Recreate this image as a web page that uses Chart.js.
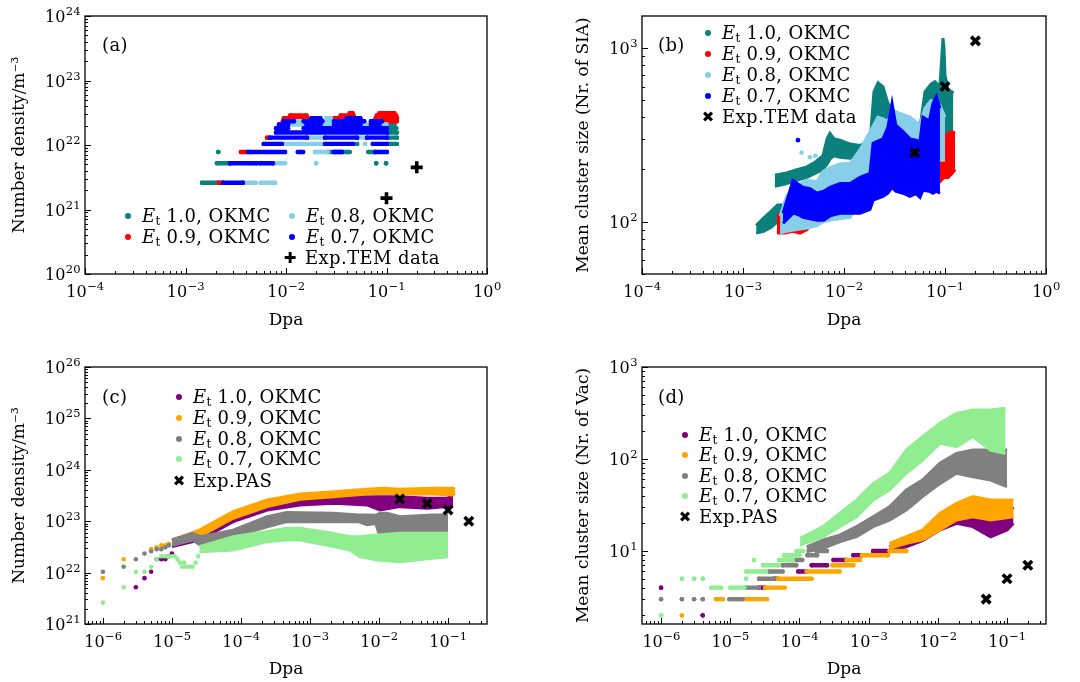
<!DOCTYPE html>
<html>
<head>
<meta charset="utf-8">
<script src="https://cdn.jsdelivr.net/npm/chart.js@4.4.1/dist/chart.umd.min.js"></script>
<style>
  body { margin: 0; background: #fff; width: 1080px; height: 682px; overflow: hidden; position: relative; font-family: "DejaVu Serif", serif; }
  canvas { position: absolute; }
  .txt { position: absolute; font-size: 18px; letter-spacing: 0.4px; line-height: 22px; white-space: nowrap; color: #000; }
  .txt sub { font-size: 12px; vertical-align: -3px; line-height: 0; letter-spacing: 0; }
  .dot { position: absolute; width: 6px; height: 6px; border-radius: 50%; }
  .sym { position: absolute; font-family: "DejaVu Sans", sans-serif; font-size: 15px; line-height: 16px; width: 16px; text-align: center; }
</style>
</head>
<body>
<canvas id="ca" width="540" height="340" style="left:0;top:0"></canvas>
<canvas id="cb" width="540" height="340" style="left:540px;top:0"></canvas>
<canvas id="cc" width="540" height="342" style="left:0;top:340px"></canvas>
<canvas id="cd" width="540" height="342" style="left:540px;top:340px"></canvas>
<script>
// ---- data (dpa, value) ----
// panel (a): runs of points at one density level [dpa start, dpa end, density]
const aTealRuns = [
  [1.46e-3, 2.10e-3, 2.6e21], [2.05e-3, 2.77e-3, 5.2e21], [2.12e-3, 2.12e-3, 7.8e21],
  [0.079, 0.079, 5.2e21], [0.099, 0.099, 5.2e21],
  [0.026, 0.043, 7.8e21], [0.066, 0.077, 7.8e21],
  [0.051, 0.051, 1.04e22], [0.104, 0.127, 1.04e22], [0.104, 0.127, 1.3e22],
  [0.104, 0.127, 1.56e22], [0.104, 0.125, 1.82e22], [0.104, 0.12, 2.08e22]
];
const aRedRuns = [
  [2.15e-3, 2.36e-3, 2.6e21], [3.56e-3, 4.19e-3, 7.8e21], [6.47e-3, 6.93e-3, 1.3e22],
  [0.0093, 0.017, 2.34e22], [0.0095, 0.0165, 2.6e22], [0.011, 0.016, 2.86e22],
  [0.030, 0.048, 2.6e22], [0.035, 0.047, 2.86e22], [0.043, 0.046, 3.12e22],
  [0.075, 0.127, 2.34e22], [0.078, 0.127, 2.6e22], [0.080, 0.125, 2.86e22], [0.085, 0.120, 3.12e22]
];
const aSkyRuns = [
  [3.73e-3, 5.0e-3, 2.6e21], [5.6e-3, 7.8e-3, 2.6e21],
  [7.4e-3, 9.8e-3, 5.2e21], [0.020, 0.020, 5.2e21],
  [0.0194, 0.026, 7.8e21],
  [9.1e-3, 0.0244, 1.04e22], [0.061, 0.061, 1.04e22],
  [0.0162, 0.0244, 1.3e22], [0.051, 0.064, 1.3e22],
  [0.0105, 0.015, 2.08e22], [0.022, 0.030, 2.08e22], [0.055, 0.070, 2.08e22], [0.085, 0.100, 2.08e22],
  [0.012, 0.015, 2.34e22], [0.023, 0.030, 2.34e22], [0.025, 0.028, 2.6e22]
];
const aBlueRuns = [
  [2.36e-3, 3.73e-3, 2.6e21],
  [2.77e-3, 5.1e-3, 5.2e21], [5.5e-3, 7.4e-3, 5.2e21],
  [4.19e-3, 9.8e-3, 7.8e21], [0.0131, 0.0148, 7.8e21], [0.030, 0.036, 7.8e21], [0.077, 0.101, 7.8e21],
  [6.0e-3, 9.1e-3, 1.04e22], [0.0244, 0.0465, 1.04e22], [0.073, 0.101, 1.04e22],
  [6.9e-3, 0.0162, 1.3e22], [0.0244, 0.051, 1.3e22], [0.064, 0.101, 1.3e22],
  [7.95e-3, 0.101, 1.56e22],
  [7.95e-3, 0.0105, 1.82e22], [0.015, 0.101, 1.82e22],
  [8.5e-3, 0.0105, 2.08e22], [0.016, 0.022, 2.08e22], [0.030, 0.055, 2.08e22], [0.070, 0.085, 2.08e22],
  [9.5e-3, 0.012, 2.34e22], [0.015, 0.023, 2.34e22], [0.030, 0.060, 2.34e22], [0.070, 0.090, 2.34e22],
  [0.018, 0.022, 2.6e22], [0.040, 0.055, 2.6e22]
];
const aExpDpa = [0.1, 0.2];
const aExpDensity = [1.5e21, 4.5e21];

// panel (b): band envelopes (dpa, lower, upper)
const bTealLowDpa = [1.35e-3, 1.6e-3, 1.9e-3, 2.2e-3, 2.6e-3];
const bTealLowLow = [86, 88, 93, 100, 108];
const bTealLowHigh = [95, 105, 115, 125, 125];
const bTealDpa = [2.07e-3, 2.61e-3, 3.28e-3, 4.3e-3, 5.16e-3, 6.2e-3, 6.8e-3, 7.26e-3, 7.97e-3, 9.12e-3, 0.0115, 0.0144, 0.0181, 0.0198, 0.0217, 0.0243, 0.0272, 0.0299, 0.0358, 0.045, 0.0516, 0.0578, 0.0633, 0.0727, 0.0795, 0.0891, 0.0955, 0.0977, 0.1, 0.1073, 0.1175, 0.121];
const bTealLow = [160, 165, 172, 180, 190, 200, 215, 230, 240, 235, 232, 235, 240, 300, 350, 420, 380, 320, 295, 290, 270, 300, 420, 440, 450, 400, 258, 258, 300, 190, 190, 200];
const bTealHigh = [185, 190, 198, 207, 220, 240, 300, 323, 300, 295, 280, 275, 290, 560, 630, 600, 480, 440, 380, 350, 340, 380, 560, 620, 640, 600, 1140, 1000, 700, 570, 560, 550];
const bRedDpa = [2.17e-3, 2.6e-3, 3.13e-3, 3.66e-3, 4.3e-3, 5.41e-3, 7.26e-3, 9.12e-3, 0.0144, 0.0181, 0.0243, 0.0358, 0.042, 0.0516, 0.0605, 0.0727, 0.0891, 0.0977, 0.1073, 0.1175, 0.126];
const bRedLow = [86, 86, 88, 86, 90, 110, 121, 121, 130, 150, 150, 160, 173, 173, 173, 173, 170, 180, 180, 190, 200];
const bRedHigh = [108, 112, 110, 106, 112, 140, 160, 170, 200, 250, 250, 220, 235, 235, 300, 370, 320, 300, 323, 330, 323];
const bSkyDpa = [2.33e-3, 2.7e-3, 3.3e-3, 4.3e-3, 5.41e-3, 6.2e-3, 7.26e-3, 9.12e-3, 0.0115, 0.0144, 0.0181, 0.0217, 0.0272, 0.0305, 0.0358, 0.045, 0.0565, 0.0633, 0.0727, 0.0891, 0.1];
const bSkyLow = [86, 88, 90, 92, 95, 100, 102, 104, 106, 140, 190, 206, 200, 180, 170, 165, 158, 200, 226, 226, 226];
const bSkyHigh = [108, 140, 160, 173, 170, 195, 205, 215, 217, 260, 330, 400, 380, 440, 420, 400, 360, 450, 500, 470, 400];
const bBlueDpa = [2.49e-3, 3.13e-3, 3.5e-3, 3.93e-3, 4.6e-3, 5.41e-3, 6.3e-3, 7.26e-3, 9.12e-3, 0.0115, 0.0144, 0.0181, 0.0194, 0.0243, 0.0272, 0.0299, 0.0325, 0.0384, 0.045, 0.0516, 0.0565, 0.0605, 0.07, 0.076, 0.082, 0.0891];
const bBlueLow = [98, 112, 110, 106, 104, 102, 102, 108, 112, 112, 112, 118, 133, 140, 146, 158, 150, 146, 140, 145, 138, 152, 150, 146, 150, 146];
const bBlueHigh = [112, 173, 165, 158, 155, 146, 150, 158, 166, 166, 180, 190, 283, 300, 350, 480, 360, 330, 300, 295, 290, 400, 380, 480, 525, 450];
const bSkyDotDpa = [3.8e-3, 4.6e-3, 5.2e-3];
const bSkyDotSize = [250, 235, 240];
const bBlueDotDpa = [3.5e-3];
const bBlueDotSize = [295];
const bExpDpa = [0.05, 0.1, 0.2];
const bExpSize = [250, 600, 1100];

// panel (c)
const cPurpleDotDpa = [3e-6, 4e-6, 5e-6, 6e-6, 7e-6, 8e-6, 9e-6, 1e-5];
const cPurpleDotDensity = [5.2e21, 7.8e21, 1.04e22, 1.82e22, 1.82e22, 1.82e22, 2.08e22, 2.34e22];
const cOrangeDotDpa = [1e-6, 2e-6, 5e-6, 6e-6, 7e-6, 8e-6, 9e-6];
const cOrangeDotDensity = [7.8e21, 1.82e22, 2.86e22, 3.12e22, 3.38e22, 3.38e22, 3.64e22];
const cGrayDotDpa = [1e-6, 2e-6, 3e-6, 4e-6, 5e-6, 6e-6, 7e-6, 8e-6, 9e-6];
const cGrayDotDensity = [1.04e22, 1.3e22, 1.82e22, 2.34e22, 2.6e22, 2.86e22, 2.86e22, 3.12e22, 3.38e22];
const cGreenDotDpa = [1e-6, 2e-6, 3e-6, 4e-6, 5e-6, 6e-6, 7e-6, 8e-6, 9e-6, 1e-5, 1.1e-5, 1.2e-5, 1.3e-5, 1.4e-5, 1.5e-5, 1.6e-5, 1.8e-5, 2.0e-5, 2.2e-5, 2.4e-5];
const cGreenDotDensity = [2.6e21, 5.2e21, 1.04e22, 1.04e22, 1.3e22, 1.82e22, 2.08e22, 2.08e22, 2.08e22, 2.08e22, 2.08e22, 1.82e22, 1.56e22, 1.3e22, 1.56e22, 1.3e22, 1.3e22, 1.3e22, 1.56e22, 2.08e22];
const cPurpleDpa = [1.0e-5, 2.5e-5, 7.7e-5, 2.4e-4, 7.2e-4, 2.2e-3, 6.7e-3, 0.0103, 0.013, 0.02, 0.05, 0.097, 0.118];
const cPurpleLow = [3.2e22, 4.3e22, 9.8e22, 1.65e23, 2.07e23, 2.23e23, 2.07e23, 1.65e23, 1.75e23, 1.92e23, 1.78e23, 1.92e23, 2.07e23];
const cPurpleHigh = [4.3e22, 6.3e22, 1.42e23, 2.23e23, 2.79e23, 3.0e23, 3.0e23, 3.0e23, 3.0e23, 3.0e23, 2.79e23, 2.79e23, 3.24e23];
const cOrangeDpa = [1.0e-5, 2.5e-5, 7.7e-5, 2.4e-4, 7.2e-4, 2.2e-3, 6.7e-3, 0.0114, 0.02, 0.06, 0.118, 0.126];
const cOrangeLow = [3.7e22, 5.0e22, 1.14e23, 1.92e23, 2.66e23, 3.0e23, 3.38e23, 3.49e23, 3.38e23, 3.38e23, 3.24e23, 3.49e23];
const cOrangeHigh = [4.3e22, 6.7e22, 1.53e23, 2.58e23, 3.38e23, 3.76e23, 4.17e23, 4.36e23, 4.17e23, 4.36e23, 4.36e23, 4.17e23];
const cGrayDpa = [1.0e-5, 2.0e-5, 2.6e-5, 7.7e-5, 2.4e-4, 4.6e-4, 2.2e-3, 5.0e-3, 6.7e-3, 9.0e-3, 0.0103, 0.0131, 0.02, 0.06, 0.1];
const cGrayLow = [3.4e22, 4.3e22, 3.4e22, 5.0e22, 7.8e22, 9.8e22, 9.8e22, 9.8e22, 8.5e22, 9.0e22, 5.0e22, 5.0e22, 5.8e22, 5.8e22, 5.4e22];
const cGrayHigh = [4.3e22, 5.8e22, 5.0e22, 6.7e22, 1.22e23, 1.47e23, 1.42e23, 1.32e23, 1.32e23, 1.3e23, 1.42e23, 1.42e23, 1.22e23, 1.32e23, 1.32e23];
const cGreenDpa = [2.5e-5, 7.7e-5, 2.4e-4, 4.6e-4, 7.2e-4, 2.2e-3, 3.8e-3, 5.3e-3, 9.4e-3, 0.02, 0.06, 0.1];
const cGreenLow = [2.55e22, 2.75e22, 4.0e22, 4.3e22, 4.3e22, 3.2e22, 2.75e22, 2.04e22, 1.76e22, 1.63e22, 1.9e22, 2.04e22];
const cGreenHigh = [3.2e22, 5.0e22, 6.3e22, 7.3e22, 7.3e22, 5.8e22, 5.0e22, 5.0e22, 5.4e22, 5.8e22, 5.8e22, 5.8e22];
const cExpDpa = [0.02, 0.05, 0.1, 0.2];
const cExpDensity = [2.7e23, 2.2e23, 1.65e23, 1.0e23];

// panel (d): runs [dpa start, dpa end, size] and band envelopes
const dPurpleRuns = [[1e-6, 1e-6, 4], [4e-6, 4e-6, 2], [2.6e-5, 3.1e-5, 4], [4.3e-5, 4.8e-5, 5], [9.6e-5, 1.27e-4, 6], [1.5e-4, 2.5e-4, 7], [3.1e-4, 4.8e-4, 8], [6e-4, 8e-4, 9], [1.16e-3, 2.0e-3, 10]];
const dOrangeRuns = [[2e-6, 2e-6, 2], [6.2e-6, 7.8e-6, 3], [1.0e-5, 3.4e-5, 3], [3.2e-5, 6.1e-5, 4], [4.8e-5, 1.5e-4, 5], [1.27e-4, 3.8e-4, 6], [3e-4, 6e-4, 7], [4.8e-4, 7.5e-4, 8], [8e-4, 1.9e-3, 9], [2.0e-3, 3.5e-3, 10]];
const dGrayRuns = [[1e-6, 1e-6, 3], [2e-6, 2e-6, 3], [3e-6, 3e-6, 3], [4e-6, 4e-6, 3], [9.7e-6, 1.5e-5, 3], [1.7e-5, 2.6e-5, 4], [2.6e-5, 4.3e-5, 5], [3.6e-5, 5.7e-5, 6], [5.7e-5, 9e-5, 7], [6.5e-5, 1.1e-4, 8], [1.3e-4, 1.8e-4, 9], [1.77e-4, 2.5e-4, 10]];
const dGreenRuns = [[1e-6, 1e-6, 2], [2e-6, 2e-6, 5], [3e-6, 3e-6, 5], [4e-6, 4e-6, 5], [5.3e-6, 7.4e-6, 4], [1.0e-5, 1.6e-5, 4], [1.7e-5, 1.7e-5, 5], [1.7e-5, 3.3e-5, 6], [2.2e-5, 2.2e-5, 8], [3.0e-5, 5.0e-5, 7], [5.1e-5, 8.0e-5, 8], [6.0e-5, 1.0e-4, 9], [9.1e-5, 1.13e-4, 10]];
const dPurpleDpa = [2.0e-3, 3.5e-3, 6.0e-3, 0.0107, 0.0186, 0.032, 0.058, 0.1, 0.124];
const dPurpleLow = [9.8, 11.1, 13, 16.9, 20, 18.4, 14.3, 16.9, 20];
const dPurpleHigh = [11.1, 13.2, 16, 23.6, 30.3, 30.3, 25.6, 25.6, 30];
const dOrangeDpa = [2.0e-3, 3.5e-3, 6.0e-3, 0.0107, 0.0186, 0.032, 0.058, 0.124];
const dOrangeLow = [10.7, 12.1, 13.2, 16.9, 21.7, 23.6, 21.7, 23.6];
const dOrangeHigh = [12.1, 14.3, 16.9, 25.6, 33, 39, 35.8, 35.8];
const dGrayDpa = [1.27e-4, 2.2e-4, 3.8e-4, 6.7e-4, 1.16e-3, 2.0e-3, 3.5e-3, 6.0e-3, 0.0107, 0.0186, 0.032, 0.058, 0.1];
const dGrayLow = [9.8, 10.7, 12.6, 14.3, 18.4, 21.7, 27.9, 39, 54, 70, 64, 59, 50];
const dGrayHigh = [11.1, 13.2, 14.9, 18.4, 23.6, 30.3, 46, 59, 90, 115, 125, 125, 125];
const dGreenDpa = [1.02e-4, 2.2e-4, 3.8e-4, 6.7e-4, 1.16e-3, 2.0e-3, 3.5e-3, 6.0e-3, 0.0107, 0.0186, 0.032, 0.058, 0.095];
const dGreenLow = [11.6, 14.3, 18.4, 23.6, 35.8, 46, 70, 97.5, 148, 136, 175, 125, 115];
const dGreenHigh = [13.7, 18.4, 25.6, 35.8, 54, 70, 125, 175, 244, 313, 341, 341, 356];
const dExpDpa = [0.05, 0.1, 0.2];
const dExpSize = [3, 5, 7];

const etValues = ['1.0', '0.9', '0.8', '0.7'];
const colorsTop = ['#0b807c', '#ff0000', '#87ceeb', '#0000ff'];
const colorsBottom = ['#800080', '#ffa500', '#808080', '#90ee90'];

// ---- helpers ----
function logTicks(scale) {
  const t = [];
  const e0 = Math.floor(Math.log10(scale.min)), e1 = Math.ceil(Math.log10(scale.max));
  for (let e = e0; e <= e1; e++) {
    for (let k = 1; k <= 9; k++) {
      const v = k * Math.pow(10, e);
      if (v >= scale.min * 0.999 && v <= scale.max * 1.001) t.push({value: v, major: k === 1});
    }
  }
  scale.ticks = t;
}

function runSet(runs, color, order) {
  const pts = [];
  runs.forEach(r => { pts.push({x: r[0], y: r[2]}, {x: r[1], y: r[2]}, {x: r[1], y: null}); });
  return {data: pts, borderColor: color, backgroundColor: color, borderWidth: 4.4, borderCapStyle: 'round',
    pointRadius: 2.2, pointBorderWidth: 0, pointBackgroundColor: color, showLine: true, spanGaps: false, fill: false, order};
}
function bandSets(xs, lo, hi, color, order) {
  return [
    {data: xs.map((x, i) => ({x, y: lo[i]})), borderColor: color, borderWidth: 3, pointRadius: 0, fill: false, order},
    {data: xs.map((x, i) => ({x, y: hi[i]})), borderColor: color, borderWidth: 3, pointRadius: 0, fill: '-1', backgroundColor: color, order}
  ];
}
function dotSet(xs, ys, color, order) {
  return {data: xs.map((x, i) => ({x, y: ys[i]})), showLine: false, pointRadius: 2.3, pointBorderWidth: 0,
    pointBackgroundColor: color, borderColor: color, order};
}
function expSet(xs, ys, style) {
  return {data: xs.map((x, i) => ({x, y: ys[i]})), showLine: false, pointStyle: style, pointRadius: 6,
    pointBorderWidth: 3.6, pointBorderColor: '#000', borderColor: '#000', order: 0};
}

// "10" with a raised exponent, placed at the scale's own tick pixels
function powText(ctx, x, y, exp, align) {
  const e = String(exp).replace('-', '\u2212');
  ctx.font = '16px "DejaVu Serif"';
  const w1 = ctx.measureText('10').width;
  ctx.font = '11.5px "DejaVu Serif"';
  const w2 = ctx.measureText(e).width;
  const x0 = align === 'right' ? x - w1 - w2 : x - (w1 + w2) / 2;
  ctx.font = '16px "DejaVu Serif"';
  ctx.fillText('10', x0, y);
  ctx.font = '11.5px "DejaVu Serif"';
  ctx.fillText(e, x0 + w1 + 0.5, y - 7);
}

const frameTicks = {
  id: 'frameTicks',
  afterDraw(chart) {
    const ctx = chart.ctx, a = chart.chartArea;
    const sx = chart.scales.x, sy = chart.scales.y;
    ctx.save();
    ctx.strokeStyle = '#000';
    ctx.fillStyle = '#000';
    ctx.lineWidth = 1;
    ctx.beginPath();
    sx.ticks.forEach(t => {
      const p = Math.round(sx.getPixelForValue(t.value)) + 0.5;
      ctx.moveTo(p, a.bottom); ctx.lineTo(p, a.bottom - (t.major ? 6 : 3));
    });
    sy.ticks.forEach(t => {
      const p = Math.round(sy.getPixelForValue(t.value)) + 0.5;
      ctx.moveTo(a.left, p); ctx.lineTo(a.left + (t.major ? 6 : 3), p);
    });
    ctx.stroke();
    ctx.lineWidth = 1.3;
    ctx.strokeRect(a.left, a.top, a.right - a.left, a.bottom - a.top);
    ctx.textBaseline = 'alphabetic';
    ctx.textAlign = 'left';
    sx.ticks.filter(t => t.major).forEach(t => {
      powText(ctx, sx.getPixelForValue(t.value), a.bottom + 23, Math.round(Math.log10(t.value)), 'center');
    });
    sy.ticks.filter(t => t.major).forEach(t => {
      powText(ctx, a.left - 5, sy.getPixelForValue(t.value) + 6, Math.round(Math.log10(t.value)), 'right');
    });
    ctx.restore();
  }
};

const titleFont = {family: 'DejaVu Serif', size: 17};

function makeChart(id, p, datasets) {
  return new Chart(document.getElementById(id), {
    type: 'line',
    data: {datasets},
    plugins: [frameTicks],
    options: {
      responsive: false, animation: false, devicePixelRatio: 1,
      layout: {padding: {left: 0, right: p.padR, top: p.padT, bottom: 0}},
      plugins: {legend: {display: false}, tooltip: {enabled: false}},
      elements: {line: {tension: 0}},
      scales: {
        x: {
          type: 'logarithmic', min: p.xMin, max: p.xMax,
          afterBuildTicks: logTicks,
          afterFit: s => { s.height = p.xH; s.paddingLeft = 0; s.paddingRight = 0; },
          grid: {display: false}, border: {display: false},
          ticks: {display: false},
          title: {display: true, text: 'Dpa', color: '#000', font: titleFont, padding: {top: 0, bottom: p.xTitlePad}}
        },
        y: {
          type: 'logarithmic', min: p.yMin, max: p.yMax,
          afterBuildTicks: logTicks,
          afterFit: s => { s.width = p.yW; s.paddingTop = 0; s.paddingBottom = 0; },
          grid: {display: false}, border: {display: false},
          ticks: {display: false},
          title: {display: true, text: p.yTitle, color: '#000', font: titleFont, padding: {top: p.yTitlePad, bottom: 0}}
        }
      }
    }
  });
}

// ---- charts ----
makeChart('ca', {padR: 53, padT: 16, xH: 66, yW: 85, xMin: 1e-4, xMax: 1, yMin: 1e20, yMax: 1e24,
  xTitlePad: 9, yTitlePad: 9, yTitle: 'Number density/m⁻³'}, [
  runSet(aTealRuns, colorsTop[0], 40),
  runSet(aRedRuns, colorsTop[1], 30),
  runSet(aSkyRuns, colorsTop[2], 20),
  runSet(aBlueRuns, colorsTop[3], 10),
  expSet(aExpDpa, aExpDensity, 'cross')
]);

makeChart('cb', {padR: 34, padT: 16, xH: 66, yW: 102, xMin: 1e-4, xMax: 1, yMin: 50, yMax: 1530,
  xTitlePad: 9, yTitlePad: 33, yTitle: 'Mean cluster size (Nr. of SIA)'}, [
  ...bandSets(bTealLowDpa, bTealLowLow, bTealLowHigh, colorsTop[0], 40),
  ...bandSets(bTealDpa, bTealLow, bTealHigh, colorsTop[0], 40),
  ...bandSets(bRedDpa, bRedLow, bRedHigh, colorsTop[1], 30),
  ...bandSets(bSkyDpa, bSkyLow, bSkyHigh, colorsTop[2], 20),
  dotSet(bSkyDotDpa, bSkyDotSize, colorsTop[2], 20),
  ...bandSets(bBlueDpa, bBlueLow, bBlueHigh, colorsTop[3], 10),
  dotSet(bBlueDotDpa, bBlueDotSize, colorsTop[3], 10),
  expSet(bExpDpa, bExpSize, 'crossRot')
]);

makeChart('cc', {padR: 53, padT: 27, xH: 58, yW: 85, xMin: 5.5e-7, xMax: 0.367, yMin: 1e21, yMax: 1e26,
  xTitlePad: 2, yTitlePad: 9, yTitle: 'Number density/m⁻³'}, [
  dotSet(cPurpleDotDpa, cPurpleDotDensity, colorsBottom[0], 40),
  ...bandSets(cPurpleDpa, cPurpleLow, cPurpleHigh, colorsBottom[0], 40),
  dotSet(cOrangeDotDpa, cOrangeDotDensity, colorsBottom[1], 30),
  ...bandSets(cOrangeDpa, cOrangeLow, cOrangeHigh, colorsBottom[1], 30),
  dotSet(cGrayDotDpa, cGrayDotDensity, colorsBottom[2], 20),
  ...bandSets(cGrayDpa, cGrayLow, cGrayHigh, colorsBottom[2], 20),
  dotSet(cGreenDotDpa, cGreenDotDensity, colorsBottom[3], 10),
  ...bandSets(cGreenDpa, cGreenLow, cGreenHigh, colorsBottom[3], 10),
  expSet(cExpDpa, cExpDensity, 'crossRot')
]);

makeChart('cd', {padR: 34, padT: 27, xH: 58, yW: 102, xMin: 5.3e-7, xMax: 0.366, yMin: 1.61, yMax: 1000,
  xTitlePad: 2, yTitlePad: 33, yTitle: 'Mean cluster size (Nr. of Vac)'}, [
  runSet(dPurpleRuns, colorsBottom[0], 40),
  ...bandSets(dPurpleDpa, dPurpleLow, dPurpleHigh, colorsBottom[0], 40),
  runSet(dOrangeRuns, colorsBottom[1], 30),
  ...bandSets(dOrangeDpa, dOrangeLow, dOrangeHigh, colorsBottom[1], 30),
  runSet(dGrayRuns, colorsBottom[2], 20),
  ...bandSets(dGrayDpa, dGrayLow, dGrayHigh, colorsBottom[2], 20),
  runSet(dGreenRuns, colorsBottom[3], 10),
  ...bandSets(dGreenDpa, dGreenLow, dGreenHigh, colorsBottom[3], 10),
  expSet(dExpDpa, dExpSize, 'crossRot')
]);

// ---- legends and panel labels (html text) ----
function addText(x, yMid, html) {
  const d = document.createElement('div');
  d.className = 'txt';
  d.style.left = x + 'px';
  d.style.top = (yMid - 11) + 'px';
  d.innerHTML = html;
  document.body.appendChild(d);
}
function addDot(x, y, color) {
  const d = document.createElement('div');
  d.className = 'dot';
  d.style.left = (x - 3) + 'px';
  d.style.top = (y - 3) + 'px';
  d.style.background = color;
  document.body.appendChild(d);
}
function addSym(x, y, ch) {
  const d = document.createElement('div');
  d.className = 'sym';
  d.style.left = (x - 8) + 'px';
  d.style.top = (y - 8) + 'px';
  d.textContent = ch;
  document.body.appendChild(d);
}
function etLabel(v) { return '<i>E</i><sub>t</sub> ' + v + ', OKMC'; }

// (a) two-column legend
[[128, 216], [128, 237], [292, 216], [292, 237]].forEach((pos, i) => {
  addDot(pos[0], pos[1], colorsTop[i]);
  addText(pos[0] + 14, pos[1], etLabel(etValues[i]));
});
addSym(290, 258, '✚');
addText(305, 258, 'Exp.TEM data');

// (b)
[33, 54, 75, 96].forEach((y, i) => { addDot(708, y, colorsTop[i]); addText(722, y, etLabel(etValues[i])); });
addSym(708, 117, '✖');
addText(722, 117, 'Exp.TEM data');

// (c)
[397, 418, 439, 459].forEach((y, i) => { addDot(179, y, colorsBottom[i]); addText(193, y, etLabel(etValues[i])); });
addSym(179, 481, '✖');
addText(193, 481, 'Exp.PAS');

// (d)
[435, 455, 476, 496].forEach((y, i) => { addDot(685, y, colorsBottom[i]); addText(699, y, etLabel(etValues[i])); });
addSym(685, 517, '✖');
addText(699, 517, 'Exp.PAS');

addText(102, 45, '(a)');
addText(658, 45, '(b)');
addText(102, 397, '(c)');
addText(658, 397, '(d)');
</script>
</body>
</html>
